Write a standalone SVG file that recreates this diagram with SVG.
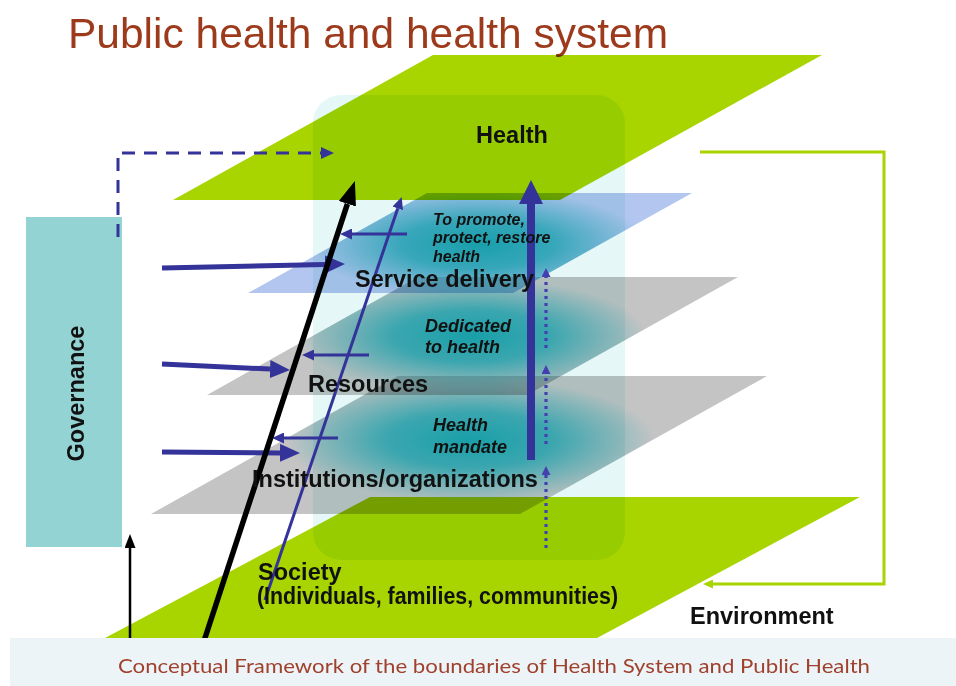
<svg xmlns="http://www.w3.org/2000/svg" width="956" height="686" viewBox="0 0 956 686">
  <style>
    .plane { mix-blend-mode: multiply; }
    .green { fill: #a8d400; }
    .blue { fill: #b3c6f0; }
    .grey { fill: #c4c4c4; }
    .lbl { font-family: "Liberation Sans", Arial, sans-serif; font-weight: bold; font-size: 23.5px; fill: #111; }
    .note { font-family: "Liberation Sans", Arial, sans-serif; font-weight: bold; font-style: italic; fill: #111; }
    .ln { fill: none; stroke-linecap: butt; }
    .navy { stroke: #34339a; }
  </style>
  <defs>
    <radialGradient id="glow" cx="0.5" cy="0.5" r="0.5">
      <stop offset="0" stop-color="#12a2ae" stop-opacity="0.95"/>
      <stop offset="0.45" stop-color="#16a4b0" stop-opacity="0.75"/>
      <stop offset="1" stop-color="#1aa6b2" stop-opacity="0"/>
    </radialGradient>
    <clipPath id="clipService"><polygon points="427,193 692,193 513,293 248,293"/></clipPath>
    <clipPath id="clipResources"><polygon points="418,277 738,277 527,395 207,395"/></clipPath>
    <clipPath id="clipInst"><polygon points="398,376 767,376 520,514 151,514"/></clipPath>
    <marker id="hBig" markerUnits="userSpaceOnUse" markerWidth="20" markerHeight="18" refX="0" refY="9" orient="auto">
      <path d="M0,0 L20,9 L0,18 z" fill="#34339a"/>
    </marker>
    <marker id="hSmall" markerUnits="userSpaceOnUse" markerWidth="12" markerHeight="11" refX="0" refY="5.5" orient="auto">
      <path d="M0,0 L12,5.5 L0,11 z" fill="#34339a"/>
    </marker>
    <marker id="hUp" markerUnits="userSpaceOnUse" markerWidth="24" markerHeight="24" refX="0" refY="12" orient="auto">
      <path d="M0,0 L24,12 L0,24 z" fill="#34339a"/>
    </marker>
    <marker id="hDot" markerUnits="userSpaceOnUse" markerWidth="9" markerHeight="9" refX="0" refY="4.5" orient="auto">
      <path d="M0,0 L9,4.5 L0,9 z" fill="#4440b0"/>
    </marker>
    <marker id="hDash" markerUnits="userSpaceOnUse" markerWidth="13" markerHeight="12" refX="0" refY="6" orient="auto">
      <path d="M0,0 L13,6 L0,12 z" fill="#34339a"/>
    </marker>
    <marker id="hBlack" markerUnits="userSpaceOnUse" markerWidth="24" markerHeight="18" refX="0" refY="9" orient="auto">
      <path d="M0,0 L24,9 L0,18 z" fill="#000"/>
    </marker>
    <marker id="hBlackThin" markerUnits="userSpaceOnUse" markerWidth="14" markerHeight="11" refX="0" refY="5.5" orient="auto">
      <path d="M0,0 L14,5.5 L0,11 z" fill="#000"/>
    </marker>
    <marker id="hGreen" markerUnits="userSpaceOnUse" markerWidth="10" markerHeight="9" refX="0" refY="4.5" orient="auto">
      <path d="M0,0 L10,4.5 L0,9 z" fill="#a8d400"/>
    </marker>
  </defs>

  <rect width="956" height="686" fill="#ffffff"/>

  <!-- title -->
  <text x="68" y="48" font-family="'Liberation Sans', Arial, sans-serif" font-size="42.5" fill="#9e3a1c">Public health and health system</text>

  <!-- layered planes -->
  <g id="society">
    <polygon class="plane green" points="370,497 860,497 597,638 105,638"/>
  </g>
  <g id="institutions">
    <polygon class="plane grey" points="398,376 767,376 520,514 151,514"/>
    <ellipse cx="470" cy="440" rx="185" ry="62" fill="url(#glow)" clip-path="url(#clipInst)"/>
  </g>
  <g id="resources">
    <polygon class="plane grey" points="418,277 738,277 527,395 207,395"/>
    <ellipse cx="472" cy="336" rx="175" ry="58" fill="url(#glow)" clip-path="url(#clipResources)"/>
  </g>
  <g id="service-delivery">
    <polygon class="plane blue" points="427,193 692,193 513,293 248,293"/>
    <ellipse cx="478" cy="244" rx="170" ry="55" fill="url(#glow)" clip-path="url(#clipService)"/>
  </g>
  <g id="health">
    <polygon class="plane green" points="433,55 822,55 560,200 173,200"/>
  </g>

  <!-- health system boundary -->
  <g id="boundary">
    <rect class="plane" x="313" y="95" width="312" height="465" rx="28" fill="#e6f7f7"/>
  </g>

  <g id="governance">
    <rect x="26" y="217" width="96" height="330" fill="#93d3d3"/>
    <text class="lbl" transform="translate(84,393.5) rotate(-90)" text-anchor="middle">Governance</text>
  </g>

  <!-- connectors -->
  <g id="connectors">
    <path class="ln navy" d="M118,237 V153 H321" stroke-width="3" stroke-dasharray="13 9" marker-end="url(#hDash)"/>
    <line class="ln navy" x1="162" y1="268" x2="325" y2="264.4" stroke-width="5" marker-end="url(#hBig)"/>
    <line class="ln navy" x1="162" y1="364" x2="270" y2="369.1" stroke-width="5" marker-end="url(#hBig)"/>
    <line class="ln navy" x1="162" y1="452" x2="280" y2="452.9" stroke-width="5" marker-end="url(#hBig)"/>
    <line class="ln navy" x1="407" y1="234" x2="352" y2="234" stroke-width="3" marker-end="url(#hSmall)"/>
    <line class="ln navy" x1="369" y1="355" x2="314" y2="355" stroke-width="3" marker-end="url(#hSmall)"/>
    <line class="ln navy" x1="338" y1="438" x2="284" y2="438" stroke-width="3" marker-end="url(#hSmall)"/>
    <line class="ln navy" x1="265" y1="600" x2="397.8" y2="208.3" stroke-width="3" marker-end="url(#hSmall)"/>
    <line class="ln" stroke="#000" x1="204" y1="641" x2="347.4" y2="203.8" stroke-width="5.5" marker-end="url(#hBlack)"/>
    <line class="ln" stroke="#000" x1="130" y1="650" x2="130" y2="548" stroke-width="2.5" marker-end="url(#hBlackThin)"/>
    <line class="ln navy" x1="531" y1="460" x2="531" y2="204" stroke-width="8" marker-end="url(#hUp)"/>
    <line class="ln" stroke="#4440b0" x1="546" y1="548" x2="546" y2="475" stroke-width="3.2" stroke-dasharray="3 4" marker-end="url(#hDot)"/>
    <line class="ln" stroke="#4440b0" x1="546" y1="444" x2="546" y2="374" stroke-width="3.2" stroke-dasharray="3 4" marker-end="url(#hDot)"/>
    <line class="ln" stroke="#4440b0" x1="546" y1="348" x2="546" y2="277" stroke-width="3.2" stroke-dasharray="3 4" marker-end="url(#hDot)"/>
    <path class="ln" stroke="#a8d400" d="M700,152 H884 V584 H713" stroke-width="3" marker-end="url(#hGreen)"/>
  </g>

  <!-- labels -->
  <g id="labels">
    <text class="lbl" x="512" y="143" text-anchor="middle">Health</text>
    <text class="note" font-size="16" x="433" y="225">To promote,</text>
    <text class="note" font-size="16" x="433" y="243">protect, restore</text>
    <text class="note" font-size="16" x="433" y="262">health</text>
    <text class="lbl" x="355" y="287">Service delivery</text>
    <text class="note" font-size="18" x="425" y="332">Dedicated</text>
    <text class="note" font-size="18" x="425" y="353">to health</text>
    <text class="lbl" x="308" y="392">Resources</text>
    <text class="note" font-size="18" x="433" y="431">Health</text>
    <text class="note" font-size="18" x="433" y="453">mandate</text>
    <text class="lbl" x="252" y="487">Institutions/organizations</text>
    <text class="lbl" x="258" y="580">Society</text>
    <text class="lbl" font-size="20" x="257" y="604" textLength="361" lengthAdjust="spacingAndGlyphs">(Individuals, families, communities)</text>
    <text class="lbl" x="690" y="624">Environment</text>
  </g>

  <!-- caption band -->
  <rect x="10" y="638" width="946" height="48" fill="#edf4f8"/>
  <text x="118" y="673" font-family="Lato, 'Open Sans', sans-serif" font-size="20" fill="#a0412d" textLength="752" lengthAdjust="spacingAndGlyphs">Conceptual Framework of the boundaries of Health System and Public Health</text>
</svg>
